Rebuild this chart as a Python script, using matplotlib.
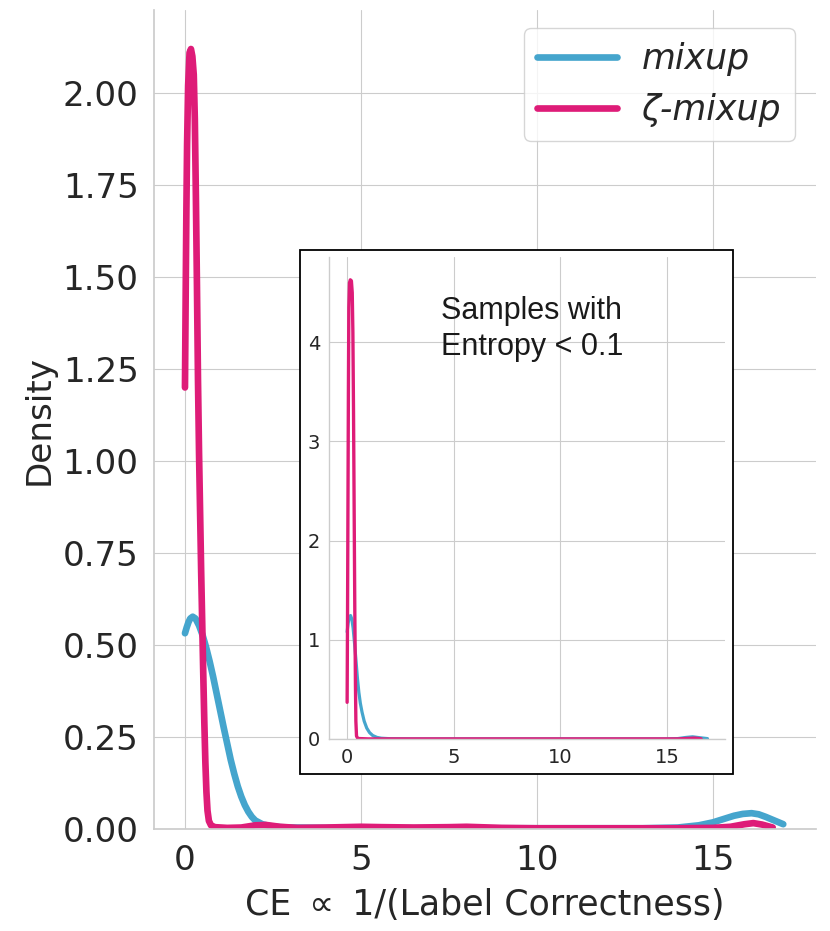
import matplotlib
matplotlib.use("Agg")
import matplotlib.pyplot as plt
import seaborn as sns
from matplotlib.patches import Rectangle

# ---------------- data ----------------
mix_x = [0.00, 0.05, 0.10, 0.15, 0.22, 0.30, 0.40, 0.50, 0.60, 0.70, 0.80, 0.90,
         1.00, 1.10, 1.20, 1.30, 1.40, 1.50, 1.60, 1.70, 1.80, 1.90, 2.00, 2.20,
         2.40, 2.70, 3.00, 4.00, 5.00, 7.00, 9.00, 11.0, 13.0, 14.0, 14.6, 15.0,
         15.3, 15.6, 15.85, 16.1, 16.3, 16.5, 16.75, 17.0]
mix_y = [0.532, 0.548, 0.562, 0.572, 0.577, 0.572, 0.553, 0.527, 0.494, 0.456, 0.414, 0.368,
         0.322, 0.276, 0.232, 0.188, 0.150, 0.116, 0.088, 0.065, 0.047, 0.033, 0.023, 0.013,
         0.008, 0.005, 0.004, 0.003, 0.003, 0.002, 0.002, 0.002, 0.002, 0.004, 0.010, 0.018,
         0.027, 0.036, 0.041, 0.043, 0.040, 0.033, 0.023, 0.013]

zeta_x = [0.00, 0.02, 0.04, 0.06, 0.09, 0.13, 0.17, 0.21, 0.25, 0.28, 0.31, 0.34,
          0.37, 0.40, 0.43, 0.46, 0.49, 0.52, 0.55, 0.58, 0.61, 0.64, 0.68, 0.74,
          0.85, 1.2, 1.6, 2.0, 2.3, 2.7, 3.2, 4.0, 5.0, 5.6, 6.5, 7.5, 8.0, 9.0,
          10.0, 12.0, 14.0, 15.0, 15.5, 15.9, 16.15, 16.4, 16.7]
zeta_y = [1.20, 1.45, 1.68, 1.86, 2.02, 2.11, 2.12, 2.10, 2.05, 1.93, 1.72, 1.48,
          1.22, 1.02, 0.86, 0.70, 0.56, 0.42, 0.29, 0.18, 0.10, 0.05, 0.022, 0.010,
          0.005, 0.003, 0.004, 0.010, 0.011, 0.006, 0.003, 0.004, 0.006, 0.005, 0.004, 0.005, 0.006, 0.003,
          0.002, 0.002, 0.002, 0.003, 0.006, 0.013, 0.016, 0.012, 0.004]

in_mix_x = [0.00, 0.05, 0.10, 0.16, 0.22, 0.28, 0.35, 0.42, 0.48, 0.55, 0.62, 0.70,
            0.80, 0.92, 1.05, 1.20, 1.40, 1.60, 2.00, 3.00, 8.0, 15.0, 15.5, 15.9,
            16.2, 16.5, 16.9]
in_mix_y = [1.08, 1.17, 1.23, 1.245, 1.21, 1.12, 0.96, 0.78, 0.62, 0.47, 0.36, 0.27,
            0.18, 0.11, 0.065, 0.035, 0.016, 0.008, 0.003, 0.001, 0.001, 0.001, 0.004, 0.016,
            0.022, 0.014, 0.004]

in_zeta_x = [0.00, 0.02, 0.04, 0.06, 0.08, 0.11, 0.15, 0.20, 0.24, 0.27, 0.30, 0.33,
             0.36, 0.39, 0.41, 0.44, 0.50, 1.00, 8.0, 15.5, 16.0, 16.3, 16.6]
in_zeta_y = [0.37, 1.30, 2.40, 3.50, 4.35, 4.60, 4.63, 4.62, 4.50, 4.10, 3.30, 2.30,
             1.30, 0.55, 0.18, 0.03, 0.005, 0.001, 0.001, 0.001, 0.006, 0.009, 0.002]

series_labels = ["mixup", "\u03b6-mixup"]
main_xticks = [0, 5, 10, 15]
main_yticks = [0.00, 0.25, 0.50, 0.75, 1.00, 1.25, 1.50, 1.75, 2.00]
inset_xticks = [0, 5, 10, 15]
inset_yticks = [0, 1, 2, 3, 4]
inset_note = "Samples with\nEntropy < 0.1"
x_label = "CE \u2009\u221d\u2009 1/(Label Correctness)"
y_label = "Density"

BLUE = "#45a5cd"
PINK = "#de1c78"

# ---------------- figure ----------------
sns.set_style("whitegrid")
plt.rcParams['font.family'] = ['DejaVu Sans']

fig = plt.figure(figsize=(8.30, 9.31), dpi=100)
ax = fig.add_axes([154/830, 1-829/931, (816-154)/830, (829-10)/931])
ax.set_zorder(0)

ax.plot(mix_x, mix_y, color=BLUE, lw=4.8, solid_capstyle='round', label=series_labels[0])
ax.plot(zeta_x, zeta_y, color=PINK, lw=4.8, solid_capstyle='round', label=series_labels[1])

ax.set_xlim(-0.88, 17.93)
ax.set_ylim(0, 2.226)
ax.set_xticks(main_xticks)
ax.set_yticks(main_yticks)
ax.set_yticklabels([f"{v:.2f}" for v in main_yticks])
ax.tick_params(axis='both', labelsize=24.6, length=0, pad=11, colors='#262626')
ax.set_ylabel(y_label, fontsize=24.6, color='#262626', labelpad=5)
ax.set_xlabel(x_label, fontsize=25, color='#262626', labelpad=8,
              family=['DejaVu Sans'])
for s in ['top', 'right']:
    ax.spines[s].set_visible(False)
for s in ['left', 'bottom']:
    ax.spines[s].set_color('#cccccc')
    ax.spines[s].set_linewidth(1.25)

leg = ax.legend(loc='upper right', bbox_to_anchor=(795/830, 1-28/931),
                bbox_transform=fig.transFigure, borderaxespad=0,
                prop={'size': 25, 'style': 'italic'}, handlelength=2.3,
                handletextpad=0.7,
                frameon=True, fancybox=True, framealpha=0.8)
leg.get_frame().set_edgecolor('#cccccc')
for t in leg.get_texts():
    t.set_color('#262626')

# black framed white box behind the inset
box = Rectangle((300/830, 1-774/931), 433/830, 524/931, transform=fig.transFigure,
                facecolor='white', edgecolor='black', lw=1.3, zorder=1)
fig.patches.append(box)

axi = fig.add_axes([329/830, 1-739/931, (725-329)/830, (739-257)/931])
axi.set_zorder(2)
axi.plot(in_mix_x, in_mix_y, color=BLUE, lw=2.3, solid_capstyle='round')
axi.plot(in_zeta_x, in_zeta_y, color=PINK, lw=2.4, solid_capstyle='round')
axi.set_xlim(-0.85, 17.72)
axi.set_ylim(0, 4.86)
axi.set_xticks(inset_xticks)
axi.set_yticks(inset_yticks)
axi.tick_params(axis='both', labelsize=14, length=0, pad=6.5, colors='#262626')
for s in ['top', 'right']:
    axi.spines[s].set_visible(False)
for s in ['left', 'bottom']:
    axi.spines[s].set_color('#cccccc')
    axi.spines[s].set_linewidth(1.0)
axi.text(0.283, 0.92, inset_note, transform=axi.transAxes, fontsize=22,
         family=['Liberation Sans', 'DejaVu Sans'], ha='left', va='top',
         color='#1a1a1a', linespacing=1.3)

fig.savefig("out.png", dpi=100)
